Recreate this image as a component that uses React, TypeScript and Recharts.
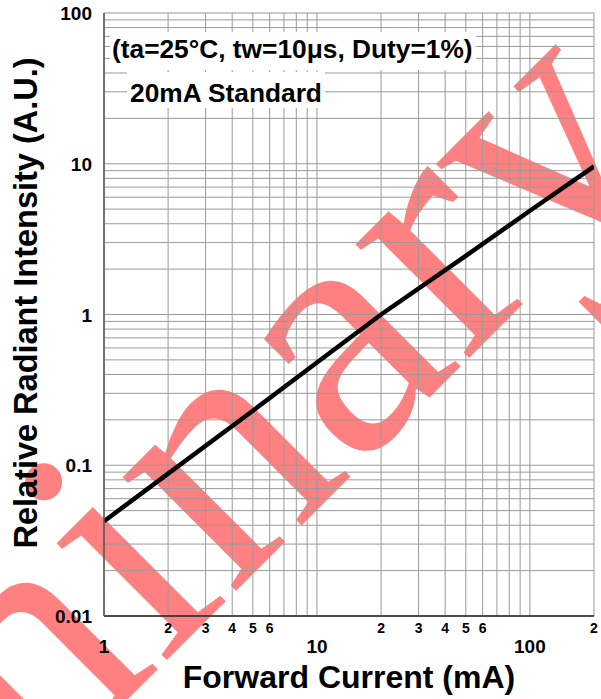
import React from "react";
import { LineChart, Line, XAxis, YAxis, CartesianGrid } from "recharts";

const currents = [1, 2, 5, 10, 20, 50, 100, 200];
const intensities = [0.0425, 0.088, 0.23, 0.48, 1.0, 2.45, 4.88, 9.6];

const xGridTicks = [1, 2, 3, 4, 5, 6, 7, 8, 9, 10, 20, 30, 40, 50, 60, 70, 80, 90, 100, 200];
const xMajorLabels = [1, 10, 100];
const xMinorLabels = [2, 3, 4, 5, 6, 20, 30, 40, 50, 60, 200];
const yGridTicks = [
  0.01, 0.02, 0.03, 0.04, 0.05, 0.06, 0.07, 0.08, 0.09,
  0.1, 0.2, 0.3, 0.4, 0.5, 0.6, 0.7, 0.8, 0.9,
  1, 2, 3, 4, 5, 6, 7, 8, 9,
  10, 20, 30, 40, 50, 60, 70, 80, 90, 100,
];
const yMajorLabels = [0.01, 0.1, 1, 10, 100];

const xTitle = "Forward Current (mA)";
const yTitle = "Relative Radiant Intensity (A.U.)";
const note1 = "(ta=25°C, tw=10μs, Duty=1%)";
const note2 = "20mA Standard";
const watermark = "Preliminary";

const data = currents.map((x, i) => ({ x, y: intensities[i] }));

const SANS = "'Liberation Sans', Arial, sans-serif";

const minorText = (v: number) => String(v)[0];

const XTick = (props: any) => {
  const { x, y, payload } = props;
  const v = payload.value;
  if (xMajorLabels.includes(v)) {
    return (
      <text x={x} y={y + 37} textAnchor="middle" fontFamily={SANS} fontWeight="bold" fontSize={19} fill="#000">
        {String(v)}
      </text>
    );
  }
  if (xMinorLabels.includes(v)) {
    return (
      <text x={x} y={y + 17} textAnchor="middle" fontFamily={SANS} fontWeight="bold" fontSize={14} fill="#000">
        {minorText(v)}
      </text>
    );
  }
  return <g />;
};

const YTick = (props: any) => {
  const { x, y, payload } = props;
  const v = payload.value;
  if (!yMajorLabels.includes(v)) return <g />;
  return (
    <text x={x - 12} y={y + 7} textAnchor="end" fontFamily={SANS} fontWeight="bold" fontSize={19} fill="#000">
      {String(v)}
    </text>
  );
};

export default function App() {
  return (
    <div style={{ position: "absolute", left: 0, top: 0, width: 601, height: 699, background: "#fff", overflow: "hidden" }}>
      <svg width={601} height={699} style={{ position: "absolute", left: 0, top: 0 }}>
        <text
          x={86}
          y={741}
          transform="rotate(-45 86 741)"
          textAnchor="middle"
          fontFamily="'Liberation Serif', 'Times New Roman', serif"
          fontSize={350}
          fill="#ff8080"
        >
          {watermark}
        </text>
      </svg>
      <div style={{ position: "absolute", left: 0, top: 0 }}>
        <LineChart width={601} height={699} data={data} margin={{ top: 13, right: 7, bottom: 0, left: 0 }}>
          <CartesianGrid stroke="#9a9a9a" strokeWidth={1} />
          <XAxis
            dataKey="x"
            type="number"
            scale="log"
            domain={[1, 200]}
            ticks={xGridTicks}
            interval={0}
            allowDataOverflow
            height={83}
            tickSize={0}
            tickMargin={0}
            tickLine={false}
            axisLine={{ stroke: "#222", strokeWidth: 1.5 }}
            tick={<XTick />}
          />
          <YAxis
            dataKey="y"
            type="number"
            scale="log"
            domain={[0.01, 100]}
            ticks={yGridTicks}
            interval={0}
            allowDataOverflow
            width={104}
            tickSize={0}
            tickMargin={0}
            tickLine={false}
            axisLine={{ stroke: "#555", strokeWidth: 1.5 }}
            tick={<YTick />}
          />
          <Line
            type="linear"
            dataKey="y"
            stroke="#000"
            strokeWidth={4.5}
            dot={false}
            isAnimationActive={false}
          />
        </LineChart>
      </div>
      <svg width={601} height={699} style={{ position: "absolute", left: 0, top: 0, pointerEvents: "none" }}>
        <rect x={110} y={32} width={366} height={38} fill="#fff" />
        <text x={112} y={58} fontFamily={SANS} fontWeight="bold" fontSize={26.3} fill="#000">
          {note1}
        </text>
        <rect x={127} y={72} width={198} height={36} fill="#fff" />
        <text x={130} y={102} fontFamily={SANS} fontWeight="bold" fontSize={26.3} fill="#000">
          {note2}
        </text>
        <text x={349} y={688} textAnchor="middle" fontFamily={SANS} fontWeight="bold" fontSize={32} fill="#000">
          {xTitle}
        </text>
        <text
          x={37}
          y={303}
          transform="rotate(-90 37 303)"
          textAnchor="middle"
          fontFamily={SANS}
          fontWeight="bold"
          fontSize={32.5}
          fill="#000"
        >
          {yTitle}
        </text>
      </svg>
    </div>
  );
}
